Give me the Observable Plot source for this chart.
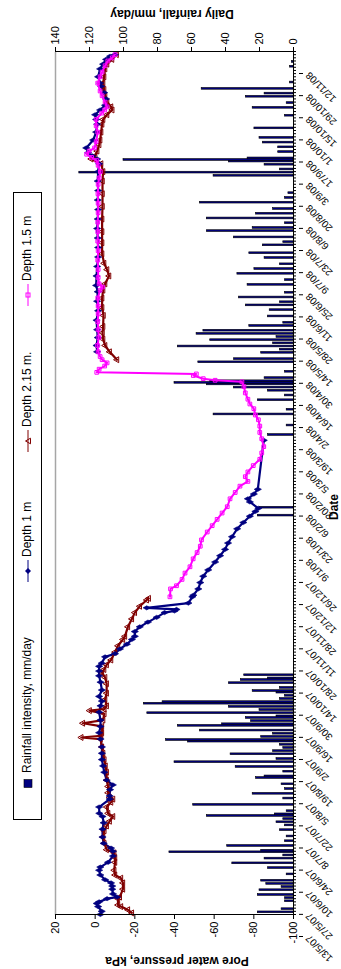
<!DOCTYPE html>
<html><head><meta charset="utf-8">
<script src="https://cdn.jsdelivr.net/npm/d3@7"></script>
<script src="https://cdn.jsdelivr.net/npm/@observablehq/plot@0.6"></script>
<style>
html,body{margin:0;padding:0;background:#fff;overflow:hidden;width:341px;height:969px;}
#rot{position:absolute;left:0;top:0;width:969px;height:341px;transform-origin:0 0;transform:translate(0,969px) rotate(-90deg);font-family:"Liberation Sans",Arial,sans-serif;background:#fff;overflow:hidden;}
#rot svg{position:absolute;left:0;top:0;overflow:visible;}
.legend{position:absolute;left:149px;top:13px;width:626px;height:27px;border:1px solid #000;background:#fff;font-size:12px;}
.legend .it{position:absolute;top:0;height:27px;line-height:27px;white-space:nowrap;}
.legend svg{position:relative !important;vertical-align:middle;}
.ttl{position:absolute;font-weight:bold;font-size:12px;line-height:12px;white-space:nowrap;transform:translate(-50%,-50%) rotate(-90deg);}
</style></head><body><div id="rot"></div>
<script>
// ---- data ----
const dateLabels = ["13/5/07","27/5/07","10/6/07","24/6/07","8/7/07","22/7/07","5/8/07","19/8/07","2/9/07","16/9/07","30/9/07","14/10/07","28/10/07","11/11/07","28/11/07","12/12/07","26/12/07","9/1/08","23/1/08","6/2/08","20/2/08","5/3/08","19/3/08","2/4/08","16/4/08","30/4/08","14/5/08","28/5/08","11/6/08","25/6/08","9/7/08","23/7/08","6/8/08","20/8/08","3/9/08","17/9/08","1/10/08","15/10/08","29/10/08","12/11/08"];
const pressureTicks = [-100,-80,-60,-40,-20,0,20];
const rainTicks = [0,20,40,60,80,100,120,140];

const rainDay = [2,4,9,11,13,16,18,20,22,26,30,33,36,38,40,41,44,47,50,54,57,59,61,63,64,66,70,
74,77,80,83,87,88,91,94,97,99,102,104,106,108,110,111,113,115,117,120,121,123,125,126,128,130,132,134,135,137,139,141,142,144,147,149,150,152,
253,258,
304,310,317,320,326,329,332,334,336,337,338,340,344,350,352,356,358,360,362,364,366,368,370,373,375,
379,383,386,388,391,394,399,402,406,409,412,416,419,424,426,429,433,435,438,441,444,447,451,454,457,468,470,472,475,477,478,
479,483,486,489,492,498,506,511,514,518,520,523,527,537,540];
const rainMm = [21,7,5,5,21,20,7,16,19,4,15,36,17,6,73,19,39,5,4,8,5,10,6,51,11,4,59,
6,24,5,7,22,17,6,34,70,10,37,12,6,8,62,75,19,12,55,68,42,25,28,10,86,20,38,88,77,8,5,10,24,8,38,31,15,29,
21,20,
15,4,47,4,21,5,15,35,51,70,49,17,5,56,35,19,8,68,12,49,10,57,53,26,6,
15,14,28,8,32,5,27,5,33,23,8,17,26,18,6,35,51,24,5,51,22,12,55,5,3,47,126,8,17,38,100,
27,9,9,18,20,23,5,24,4,28,17,54,2,2,1];

const d1Day = [0,2,5,7,8,10,11,13,16,18,20,22,25,28,30,33,37,40,42,45,49,54,58,62,64,68,73,75,79,82,85,90,94,98,102,106,111,115,119,123,128,132,135,138,142,147,151,154,157,159,163,165,168,171,174,176,179,182,185,188,191,192,193,194,197,201,202,206,210,214,218,223,227,231,235,239,244,248,252,255,257,261,263,266,269,
300,
352,356,360,365,370,376,382,388,394,398,404,410,416,422,428,434,440,446,452,458,464,470,475,478,480,482,485,490,495,500,503,506,509,512,516,520,524,526,530,535,538,541,543,544];
const d1Kpa = [-2.6,-3.3,-1.5,-0.8,-2,-6,-11,-9,-8.6,-8.6,-8,-5,-2.6,-2,-2.6,-6.5,-9,-9,-8,-4.3,-3.7,-3.7,-4.3,-3.7,-2.1,-2,-7.3,-7.3,-7.5,-8.9,-5.8,-4.6,-4,-3.4,-3.4,-3.4,-2.7,-2,-2.7,-2.7,-2,-2.7,-3.4,-2,-3.4,-2.7,-2,-2,-2,-3.3,-5,-10,-12.5,-16,-18.5,-20,-20,-22.5,-26.6,-31,-35,-40,-41,-26,-47,-49,-49.5,-52,-53,-54.5,-57,-60.5,-63,-65.5,-67,-69,-71.6,-74.7,-78,-80.8,-82.3,-78,-77,-80,-82,-85,
null,
-1,-0.7,-1.3,-1,-0.7,-1.5,-1,-1.3,-0.5,-0.7,-1,-1.5,-1.5,-1.3,-1,-1.3,-1.5,-1.3,-1.5,-1.3,-1.5,-2,-1,1.5,3.5,4.5,1,-0.5,-1,-0.5,0,-2.5,-5,-5.5,-4.5,-3,-2.5,-1.5,-2.5,-4,-5.5,-7.5,-10,-16.5];

const d215Day = [1,3,5,6,10,11,16,20,23,25,28,33,36,39,41,45,49,53,56,59,62,64,68,71,73,74,77,81,85,90,94,98,102,106,111,112,113,115,119,121,123,127,129,130,132,136,140,146,150,153,155,158,161,166,170,174,176,182,187,191,195,199,200,
300,
351,356,360,364,368,372,379,384,390,395,399,404,408,412,418,425,432,440,448,456,464,470,475,478,480,483,487,490,495,500,503,506,509,511,514,518,522,526,530,535,538,541,544];
const d215Kpa = [-18.5,-16.5,-13,-11.5,-11.5,-12.4,-14,-14,-13,-10,-9.6,-10,-10,-9.6,-5.8,-4.6,-4,-4.6,-5.8,-7.3,-9,-6.5,-5.8,-8,-9,-7.3,-6.5,-6.5,-5.8,-5.8,-5.2,-4.6,-4,-3.4,-2.7,7,-3,-3.4,-3.4,6.2,-4,-4.6,2.8,-4.6,-5.8,-5,-5.8,-5.8,-5,-3.4,-4.5,-5.8,-8,-10,-11.5,-14,-15,-16.5,-18.5,-20,-22.5,-26,-27,
null,
-11,-7.3,-5,-4,-3.7,-4,-4.2,-3.5,-3.5,-4,-5,-7,-6,-4.5,-3.5,-3.5,-3.5,-3.5,-3.7,-3.7,-3.7,-4,-3,2,0,-1,-2,-2.5,-3,-3.5,-4,-6,-8.6,-8,-6,-5,-4.5,-4,-4.5,-5,-6,-8.5,-10.8];

const d15Day = [201,206,208,212,216,220,225,229,233,237,242,246,250,254,258,263,267,271,274,277,280,284,288,292,296,301,305,309,313,316,320,323,326,330,334,337,338,339,341,342,
343,345,347,349,351,353,356,360,365,370,375,380,385,390,395,397,399,403,408,414,420,426,432,438,444,450,456,462,466,470,474,477,479,481,483,485,489,495,499,503,507,509,511,514,518,521,526,530,533,537,540,542,544];
const d15Kpa = [-37.7,-38,-41,-43.8,-45.3,-47.8,-49.4,-51.4,-53,-53.6,-56.5,-59,-61.5,-64,-66.6,-68,-70.6,-73,-77,-75.7,-77,-79.7,-83,-84,-85,-84,-83,-83,-82.3,-80.8,-80,-78,-77,-75.7,-75,-74,-60.5,-54.5,-49.5,-51,
-0.8,-2,-4.8,-6,-3.5,-2.5,-1.5,-1.2,-1.8,-1.5,-1.3,-1.5,-1.5,-1.3,-2.5,-3.8,-2,-1.5,-1.5,-1.3,-1.5,-1.3,-1.3,-1.3,-1.5,-1.5,-1.4,-1.5,-2,-2.6,-1.5,-0.8,1.8,4.3,3,0.3,-0.5,-1.3,-0.5,-0.5,-3.3,-4.8,-6,-5,-3.5,-2.5,-1.3,-2.5,-3.5,-5,-6.4,-8.6,-10];

// ---- build tables ----
const xMax = 546;
const rainToP = r => -100 + r * 120 / 140;
const pToRain = p => (p + 100) * 140 / 120;
const rain = rainDay.map((d, i) => ({day: d, mm: rainMm[i]}));
const ser = (days, vals) => days.map((d, i) => ({day: d, kpa: vals[i]}));
const s1 = ser(d1Day, d1Kpa), s215 = ser(d215Day, d215Kpa), s15 = ser(d15Day, d15Kpa);
const defined = a => a.filter(d => d.kpa != null);
const labelIdx = dateLabels.map((_, i) => i * 14);
const minorIdx = d3.range(0, xMax + 1, 2);

const NAVY = "#000080", RED = "#800000", MAG = "#ff00ff";

const chart = Plot.plot({
  width: 969, height: 341,
  marginLeft: 54, marginRight: 52, marginTop: 55, marginBottom: 48,
  x: {domain: [0, xMax], axis: null, label: null},
  y: {domain: [-100, 20], axis: null, label: null},
  style: {fontFamily: "Liberation Sans, Arial, sans-serif", fontSize: "11px", background: "transparent", overflow: "visible"},
  marks: [
    Plot.ruleY([20], {stroke: "#a6a6a6", strokeWidth: 1.5}),
    Plot.rect(rain, {x1: d => d.day - 0.55, x2: d => d.day + 0.55, y1: -100, y2: d => rainToP(d.mm), fill: NAVY, stroke: "#000", strokeWidth: 0.6}),
    Plot.line(s1, {x: "day", y: "kpa", stroke: NAVY, strokeWidth: 2.2}),
    Plot.line(s215, {x: "day", y: "kpa", stroke: RED, strokeWidth: 2.2}),
    Plot.dot(defined(s215), {x: "day", y: "kpa", symbol: "triangle", r: 2.2, stroke: RED, strokeWidth: 1, fill: "none"}),
    Plot.dot(defined(s1), {x: "day", y: "kpa", symbol: "diamond", r: 2.2, fill: NAVY, stroke: NAVY, strokeWidth: 0.6}),
    Plot.line(s15, {x: "day", y: "kpa", stroke: MAG, strokeWidth: 2}),
    Plot.dot(s15, {x: "day", y: "kpa", symbol: "square", r: 2.1, stroke: MAG, strokeWidth: 1, fill: "none"}),
    Plot.ruleY([-100], {stroke: "#000"}),
    Plot.ruleX([0], {stroke: "#000"}),
    Plot.ruleX([xMax], {stroke: "#000"}),
    Plot.axisY({ticks: pressureTicks, anchor: "left", label: null, tickSize: 4, tickPadding: 3, tickFormat: d => String(d), fontSize: 11}),
    Plot.axisY({ticks: rainTicks.map(rainToP), anchor: "right", label: null, tickSize: 4, tickPadding: 3, tickFormat: p => String(Math.round(pToRain(p))), fontSize: 11}),
    Plot.axisX({ticks: minorIdx, label: null, tickSize: 3, tickFormat: () => ""}),
    Plot.axisX({ticks: labelIdx, label: null, tickSize: 4, tickRotate: -45, tickPadding: 4, tickFormat: i => dateLabels[Math.round(i / 14)], fontSize: 10, dx: -22, dy: 6})
  ]
});

const rot = document.getElementById("rot");
rot.appendChild(chart);

function sym(kind, color) {
  const ns = "http://www.w3.org/2000/svg";
  const s = document.createElementNS(ns, "svg");
  s.setAttribute("width", kind === "rain" ? 9 : 24); s.setAttribute("height", 10);
  if (kind === "rain") {
    s.innerHTML = `<rect x="0.5" y="1" width="8" height="8" fill="${color}" stroke="#000" stroke-width="0.6"/>`;
  } else {
    let m = "";
    if (kind === "diamond") m = `<path d="M12,2L15,5L12,8L9,5Z" fill="${color}"/>`;
    if (kind === "triangle") m = `<path d="M12,2.5L14.8,7.5L9.2,7.5Z" fill="none" stroke="${color}"/>`;
    if (kind === "square") m = `<rect x="10" y="3" width="4" height="4" fill="none" stroke="${color}"/>`;
    s.innerHTML = `<line x1="1" y1="5" x2="23" y2="5" stroke="${color}" stroke-width="1"/>` + m;
  }
  return s;
}
const legend = document.createElement("div");
legend.className = "legend";
const items = [
  {x: 31, kind: "rain", color: NAVY, text: "Rainfall intensity, mm/day"},
  {x: 236, kind: "diamond", color: NAVY, text: "Depth 1 m"},
  {x: 366, kind: "triangle", color: RED, text: "Depth 2.15 m."},
  {x: 512, kind: "square", color: MAG, text: "Depth 1.5 m"}
];
for (const it of items) {
  const d = document.createElement("div");
  d.className = "it"; d.style.left = it.x + "px";
  d.appendChild(sym(it.kind, it.color));
  const t = document.createElement("span");
  t.textContent = it.text; t.style.marginLeft = it.kind === "rain" ? "6px" : "2px";
  d.appendChild(t);
  legend.appendChild(d);
}
rot.appendChild(legend);

function title(text, x, y, rotate) {
  const d = document.createElement("div");
  d.className = "ttl"; d.textContent = text;
  d.style.left = x + "px"; d.style.top = y + "px";
  if (!rotate) d.style.transform = "translate(-50%,0)";
  rot.appendChild(d);
}
title("Pore water pressure, kPa", 8, 177, true);
title("Daily rainfall, mm/day", 955, 172, true);
title("Date", 462, 328, false);
</script></body></html>
